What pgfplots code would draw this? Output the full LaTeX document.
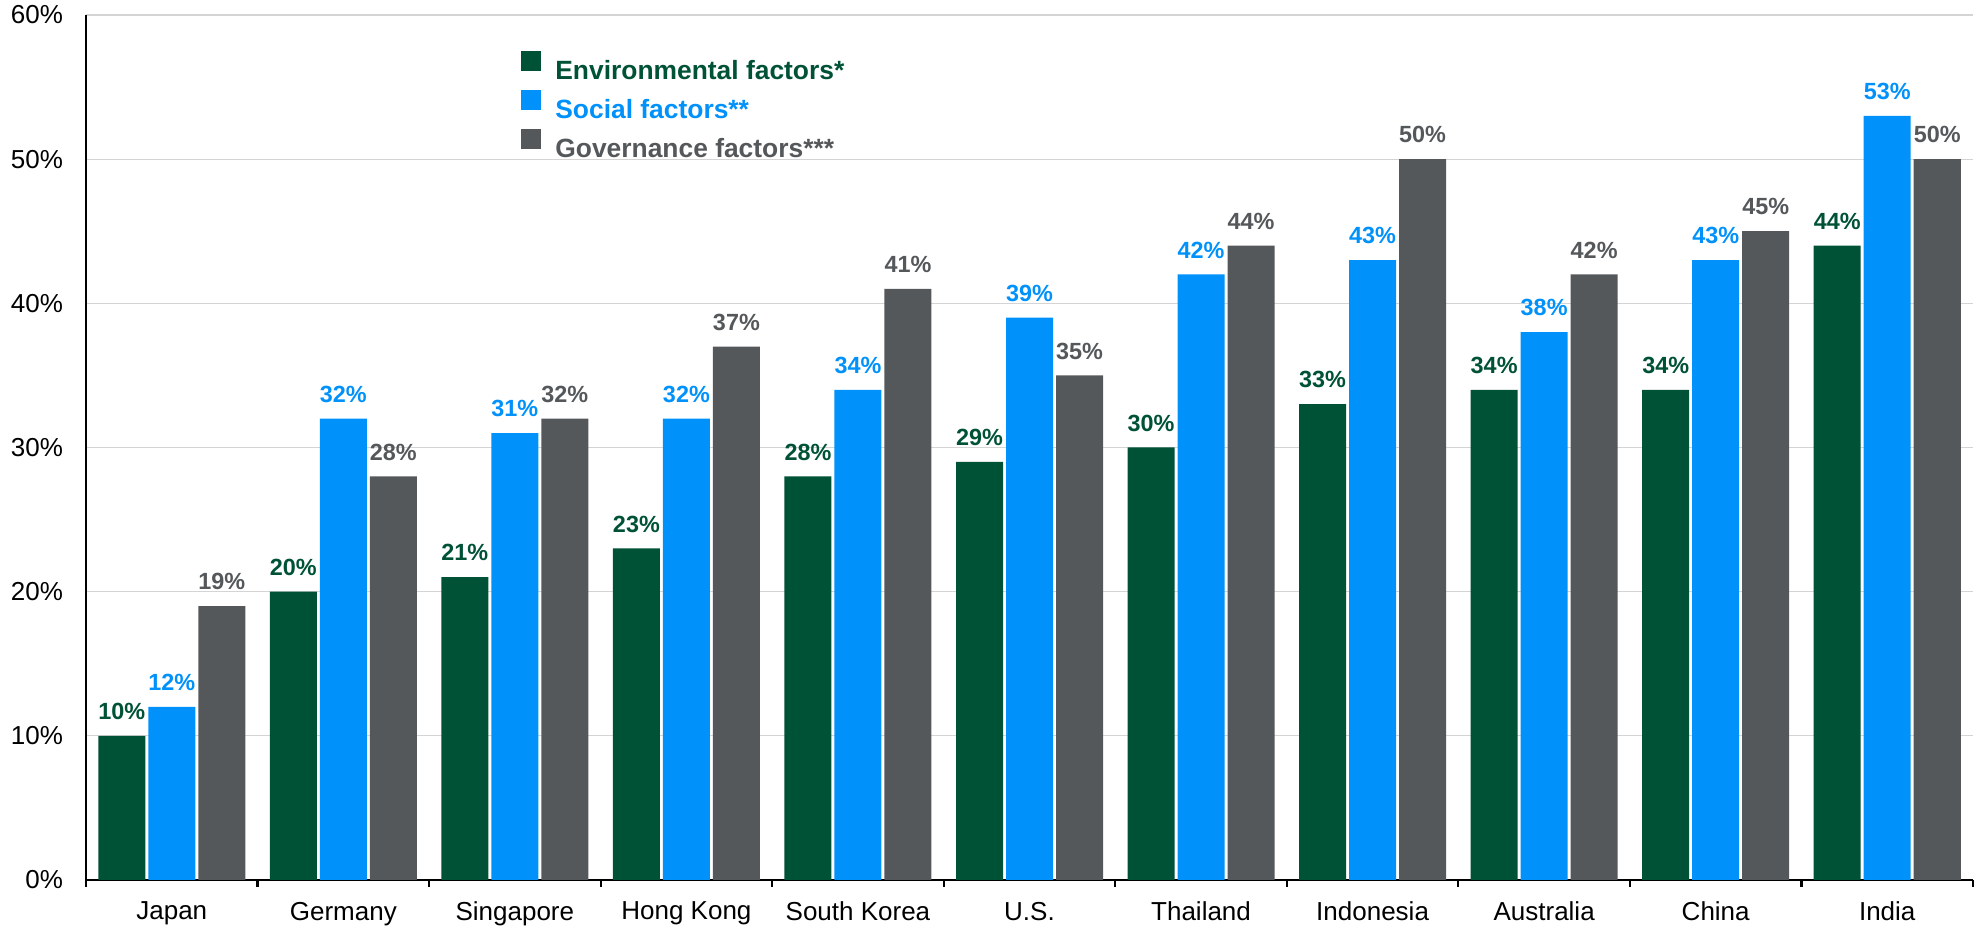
\documentclass[border=0pt]{standalone}
\usepackage{fontspec}
\setmainfont{Liberation Sans}
\usepackage{pgfplots}
\pgfplotsset{compat=1.18}
\usepackage{pgfplotstable}
\definecolor{envg}{RGB}{0,82,55}
\definecolor{socb}{RGB}{0,145,250}
\definecolor{govg}{RGB}{85,88,91}
\definecolor{gridc}{RGB}{212,212,212}

\pgfplotstableread{
x env soc gov
0 10 12 19
1 20 32 28
2 21 31 32
3 23 32 37
4 28 34 41
5 29 39 35
6 30 42 44
7 33 43 50
8 34 38 42
9 34 43 45
10 44 53 50
}\data

\begin{document}
\begin{tikzpicture}
\begin{axis}[
  scale only axis, width=943.5pt, height=432.5pt,
  xmin=-0.5, xmax=10.5, ymin=0, ymax=60,
  ybar=1.5pt, bar width=23.5pt,
  axis x line*=bottom, axis y line*=left,
  axis line style={-, black, line width=1.1pt},
  xtick={0,...,10},
  xticklabels={Japan, Germany, Singapore, Hong Kong, South Korea, U.S., Thailand, Indonesia, Australia, China, India},
  minor xtick={-0.5,0.5,...,10.5},
  tick align=outside,
  major tick length=0pt,
  minor tick length=3.5pt,
  minor x tick style={black, line width=1.1pt},
  ytick={0,10,...,60},
  yticklabels={0\%,10\%,20\%,30\%,40\%,50\%,60\%},
  ymajorgrids,
  grid style={gridc, line width=0.6pt},
  tick label style={font=\fontsize{13}{15}\selectfont, black},
  yticklabel style={xshift=-8pt},
  xticklabel style={yshift=-7.5pt},
  /pgf/number format/assume math mode=true,
  nodes near coords={\pgfmathprintnumber{\pgfplotspointmeta}\%},
  every node near coord/.append style={font=\bfseries\fontsize{11.7}{13}\selectfont, yshift=4.5pt},
  legend image code/.code={\fill[#1] (0pt,0pt) rectangle (10pt,10pt);},
  legend style={at={(rel axis cs:0.2305,0.9588)}, anchor=north west, draw=none, fill=none,
    font=\bfseries\fontsize{13.2}{15}\selectfont, cells={anchor=west}, row sep=2pt, inner sep=0pt,
    /tikz/every odd column/.append style={column sep=5pt}},
]
\addplot[fill=envg, draw=none, every node near coord/.append style={text=envg}] table[x=x,y=env]{\data};
\addlegendentry{\textcolor{envg}{Environmental factors*}}
\addplot[fill=socb, draw=none, every node near coord/.append style={text=socb}] table[x=x,y=soc]{\data};
\addlegendentry{\textcolor{socb}{Social factors**}}
\addplot[fill=govg, draw=none, every node near coord/.append style={text=govg}] table[x=x,y=gov]{\data};
\addlegendentry{\textcolor{govg}{Governance factors***}}
\end{axis}
\pgfresetboundingbox
\path[use as bounding box] ([xshift=-43pt,yshift=-24pt]current axis.south west) rectangle ([xshift=6.5pt,yshift=7.5pt]current axis.north east);
\end{tikzpicture}
\end{document}
